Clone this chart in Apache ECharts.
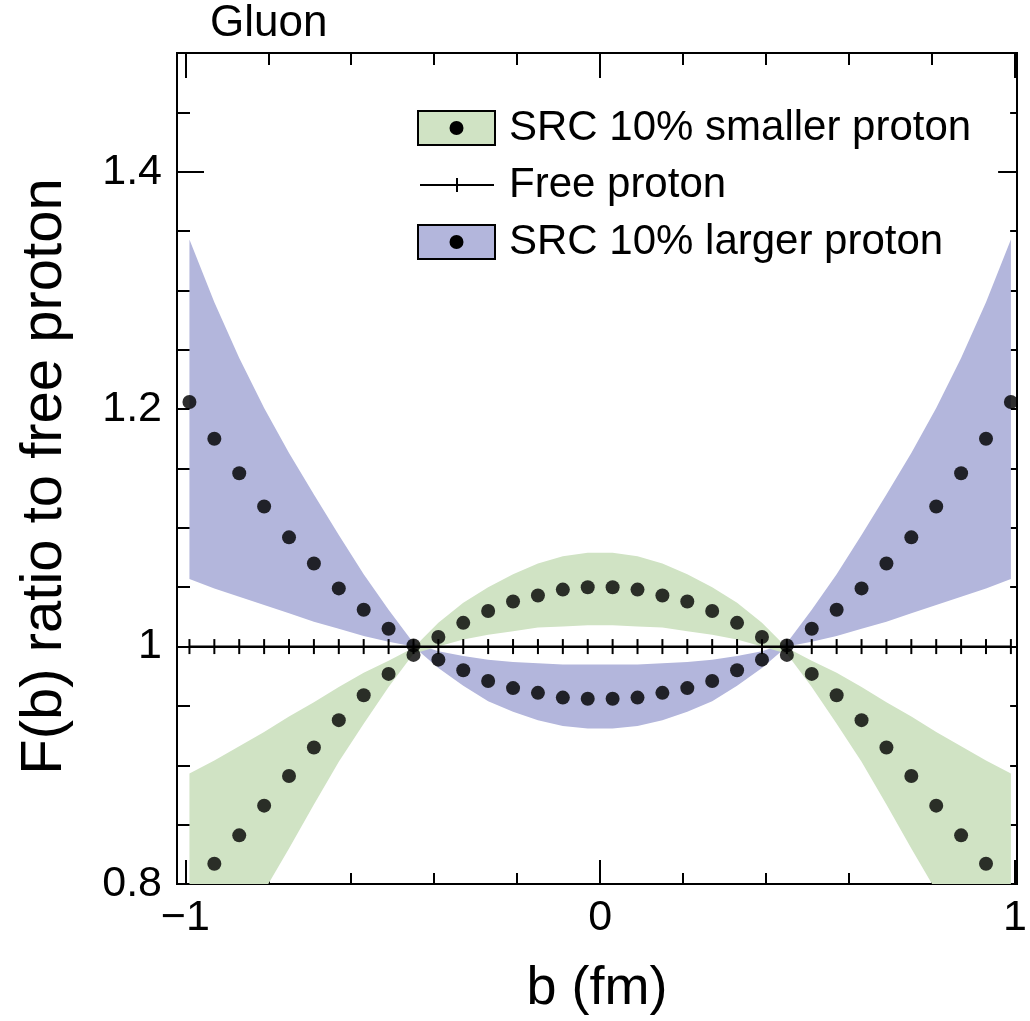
<!DOCTYPE html>
<html>
<head>
<meta charset="utf-8">
<title>Gluon</title>
<script src="https://cdn.jsdelivr.net/npm/echarts@6/dist/echarts.min.js"></script>
<style>
    html, body { margin: 0; padding: 0; background: #fff; }
    #chart { width: 1030px; height: 1021px; }
</style>
</head>
<body>
<div id="chart"></div>
<script>
// impact parameter b (fm) of each sample
var bValues = [-0.99, -0.93, -0.87, -0.81, -0.75, -0.69, -0.63, -0.57, -0.51, -0.45, -0.39, -0.33,
    -0.27, -0.21, -0.15, -0.09, -0.03, 0.03, 0.09, 0.15, 0.21, 0.27, 0.33, 0.39,
    0.45, 0.51, 0.57, 0.63, 0.69, 0.75, 0.81, 0.87, 0.93, 0.99];

// SRC 10% larger proton: central points and band edges
var largerDots = [1.206, 1.175, 1.146, 1.118, 1.092, 1.070, 1.049, 1.031, 1.015, 1.001, 0.989, 0.980,
    0.971, 0.965, 0.961, 0.957, 0.956, 0.956, 0.957, 0.961, 0.965, 0.971, 0.980, 0.989,
    1.001, 1.015, 1.031, 1.049, 1.070, 1.092, 1.118, 1.146, 1.175, 1.206];
var largerUpper = [1.343, 1.290, 1.243, 1.201, 1.163, 1.128, 1.094, 1.061, 1.031, 1.003, 0.996, 0.992,
    0.989, 0.987, 0.986, 0.985, 0.985, 0.985, 0.985, 0.986, 0.987, 0.989, 0.992, 0.996,
    1.003, 1.031, 1.061, 1.094, 1.128, 1.163, 1.201, 1.243, 1.290, 1.343];
var largerLower = [1.057, 1.049, 1.042, 1.035, 1.028, 1.021, 1.015, 1.009, 1.004, 1.000, 0.982, 0.967,
    0.954, 0.945, 0.938, 0.933, 0.931, 0.931, 0.933, 0.938, 0.945, 0.954, 0.967, 0.982,
    1.000, 1.004, 1.009, 1.015, 1.021, 1.028, 1.035, 1.042, 1.049, 1.057];

// SRC 10% smaller proton: central points and band edges
var smallerDots = [0.792, 0.817, 0.841, 0.866, 0.891, 0.915, 0.938, 0.959, 0.977, 0.993, 1.008, 1.020,
    1.030, 1.038, 1.043, 1.048, 1.050, 1.050, 1.048, 1.043, 1.038, 1.030, 1.020, 1.008,
    0.993, 0.977, 0.959, 0.938, 0.915, 0.891, 0.866, 0.841, 0.817, 0.792];
var smallerUpper = [0.893, 0.904, 0.916, 0.928, 0.941, 0.953, 0.966, 0.978, 0.988, 0.999, 1.020, 1.037,
    1.050, 1.061, 1.070, 1.076, 1.079, 1.079, 1.076, 1.070, 1.061, 1.050, 1.037, 1.020,
    0.999, 0.988, 0.978, 0.966, 0.953, 0.941, 0.928, 0.916, 0.904, 0.893];
var smallerLower = [0.685, 0.722, 0.758, 0.794, 0.830, 0.867, 0.903, 0.935, 0.966, 0.994, 1.000, 1.006,
    1.010, 1.013, 1.016, 1.017, 1.018, 1.018, 1.017, 1.016, 1.013, 1.010, 1.006, 1.000,
    0.994, 0.966, 0.935, 0.903, 0.867, 0.830, 0.794, 0.758, 0.722, 0.685];

// free proton (ratio 1 everywhere)
var freeProton = [1, 1, 1, 1, 1, 1, 1, 1, 1, 1, 1, 1, 1, 1, 1, 1, 1,
    1, 1, 1, 1, 1, 1, 1, 1, 1, 1, 1, 1, 1, 1, 1, 1, 1];

// ticks
var xMajorTicks = [-1, 0, 1];
var xMajorLabels = ['\u22121', '0', '1'];
var xMinorTicks = [-0.8, -0.6, -0.4, -0.2, 0.2, 0.4, 0.6, 0.8];
var yMajorTicks = [0.8, 1, 1.2, 1.4];
var yMinorTicks = [0.85, 0.9, 0.95, 1.05, 1.1, 1.15, 1.25, 1.3, 1.35, 1.45];

var FONT = '"Liberation Sans", Arial, Helvetica, sans-serif';
var GREEN = '#d0e3c4';
var BLUE = '#b3b6dc';

function pairs(ys) {
    return bValues.map(function (b, i) { return [b, ys[i]]; });
}
function bandRows(lo, up) {
    return bValues.map(function (b, i) { return [b, lo[i], up[i]]; });
}

// one filled polygon per band, lower edge left->right then upper edge right->left
function renderBand(params, api) {
    if (params.dataIndexInside !== 0) {
        return null;
    }
    var n = params.dataInsideLength;
    var pts = [];
    for (var i = 0; i < n; i++) {
        pts.push(api.coord([api.value(0, i), api.value(1, i)]));
    }
    for (var j = n - 1; j >= 0; j--) {
        pts.push(api.coord([api.value(0, j), api.value(2, j)]));
    }
    return {
        type: 'polygon',
        shape: { points: pts },
        style: { fill: api.visual('color') }
    };
}

function xAxis(pos, ticks, len, withLabels) {
    var ax = {
        type: 'value',
        position: pos,
        min: -1.02,
        max: 1.005,
        axisLine: { show: true, onZero: false, lineStyle: { color: '#000', width: 2 } },
        axisTick: { show: true, inside: true, length: len, customValues: ticks, lineStyle: { color: '#000', width: 2 } },
        axisLabel: { show: false },
        splitLine: { show: false }
    };
    if (withLabels) {
        ax.axisLabel = {
            show: true,
            customValues: xMajorTicks,
            margin: 13,
            color: '#000',
            fontSize: 43,
            fontFamily: FONT,
            formatter: function (v) { return xMajorLabels[xMajorTicks.indexOf(v)]; }
        };
        ax.name = 'b (fm)';
        ax.nameLocation = 'middle';
        ax.nameGap = 78;
        ax.nameTextStyle = { color: '#000', fontSize: 54, fontFamily: FONT };
    }
    return ax;
}

function yAxis(pos, ticks, len, withLabels) {
    var ax = {
        type: 'value',
        position: pos,
        min: 0.8,
        max: 1.5,
        axisLine: { show: true, onZero: false, lineStyle: { color: '#000', width: 2 } },
        axisTick: { show: true, inside: true, length: len, customValues: ticks, lineStyle: { color: '#000', width: 2 } },
        axisLabel: { show: false },
        splitLine: { show: false }
    };
    if (withLabels) {
        ax.axisLabel = {
            show: true,
            customValues: yMajorTicks,
            margin: 15,
            color: '#000',
            fontSize: 43,
            fontFamily: FONT
        };
        ax.name = 'F(b) ratio to free proton';
        ax.nameLocation = 'middle';
        ax.nameGap = 103;
        ax.nameTextStyle = { color: '#000', fontSize: 58, fontFamily: FONT, padding: [0, 16, 0, 0] };
    }
    return ax;
}

function legendRow(y, label, kind, fill) {
    var items = [];
    if (kind === 'band') {
        items.push({ type: 'rect', shape: { x: 418, y: y - 17, width: 77, height: 34 },
            style: { fill: fill, stroke: '#000', lineWidth: 2 } });
        items.push({ type: 'circle', shape: { cx: 456.5, cy: y, r: 7 }, style: { fill: '#000' } });
    } else {
        items.push({ type: 'line', shape: { x1: 420, y1: y, x2: 494, y2: y }, style: { stroke: '#000', lineWidth: 2 } });
        items.push({ type: 'line', shape: { x1: 457, y1: y - 7, x2: 457, y2: y + 7 }, style: { stroke: '#000', lineWidth: 2 } });
    }
    items.push({ type: 'text', x: 509, y: y,
        style: { text: label, fill: '#000', font: '42px ' + FONT, verticalAlign: 'middle' } });
    return items;
}

var option = {
    backgroundColor: '#fff',
    animation: false,
    title: {
        text: 'Gluon',
        left: 210,
        top: 2,
        padding: 0,
        textStyle: { color: '#000', fontSize: 44, fontWeight: 'normal', fontFamily: FONT }
    },
    grid: { left: 177, right: 5, top: 53, bottom: 133, containLabel: false },
    xAxis: [
        xAxis('bottom', xMajorTicks, 24, true),
        xAxis('bottom', xMinorTicks, 11, false),
        xAxis('top', xMajorTicks, 25, false),
        xAxis('top', xMinorTicks, 12, false)
    ],
    yAxis: [
        yAxis('left', yMajorTicks, 27, true),
        yAxis('left', yMinorTicks, 13, false),
        yAxis('right', yMajorTicks, 19, false),
        yAxis('right', yMinorTicks, 7, false)
    ],
    graphic: [].concat(
        legendRow(128, 'SRC 10% smaller proton', 'band', GREEN),
        legendRow(185, 'Free proton', 'line'),
        legendRow(242, 'SRC 10% larger proton', 'band', BLUE)
    ),
    series: [
        {
            name: 'SRC 10% larger proton band', type: 'custom', data: bandRows(largerLower, largerUpper),
            renderItem: renderBand, encode: { x: 0, y: [1, 2] }, clip: true, silent: true,
            itemStyle: { color: BLUE }, z: 1
        },
        {
            name: 'SRC 10% smaller proton band', type: 'custom', data: bandRows(smallerLower, smallerUpper),
            renderItem: renderBand, encode: { x: 0, y: [1, 2] }, clip: true, silent: true,
            itemStyle: { color: GREEN }, z: 1
        },
        {
            name: 'Free proton', type: 'line', data: pairs(freeProton),
            symbol: 'rect', symbolSize: [2, 15], showAllSymbol: true,
            itemStyle: { color: '#000' }, lineStyle: { color: '#000', width: 2 }, z: 3,
            markLine: {
                silent: true, symbol: 'none', label: { show: false },
                lineStyle: { color: '#000', width: 2, type: 'solid' },
                data: [{ yAxis: 1 }]
            }
        },
        {
            name: 'SRC 10% larger proton', type: 'scatter', data: pairs(largerDots),
            symbolSize: 14, itemStyle: { color: 'rgba(0,0,0,0.82)', opacity: 1 }, z: 4
        },
        {
            name: 'SRC 10% smaller proton', type: 'scatter', data: pairs(smallerDots),
            symbolSize: 14, itemStyle: { color: 'rgba(0,0,0,0.8)', opacity: 1 }, z: 4
        }
    ]
};

var myChart = echarts.init(document.getElementById('chart'));
myChart.setOption(option);
window.addEventListener('resize', function () {
    myChart.resize();
});
</script>
</body>
</html>
